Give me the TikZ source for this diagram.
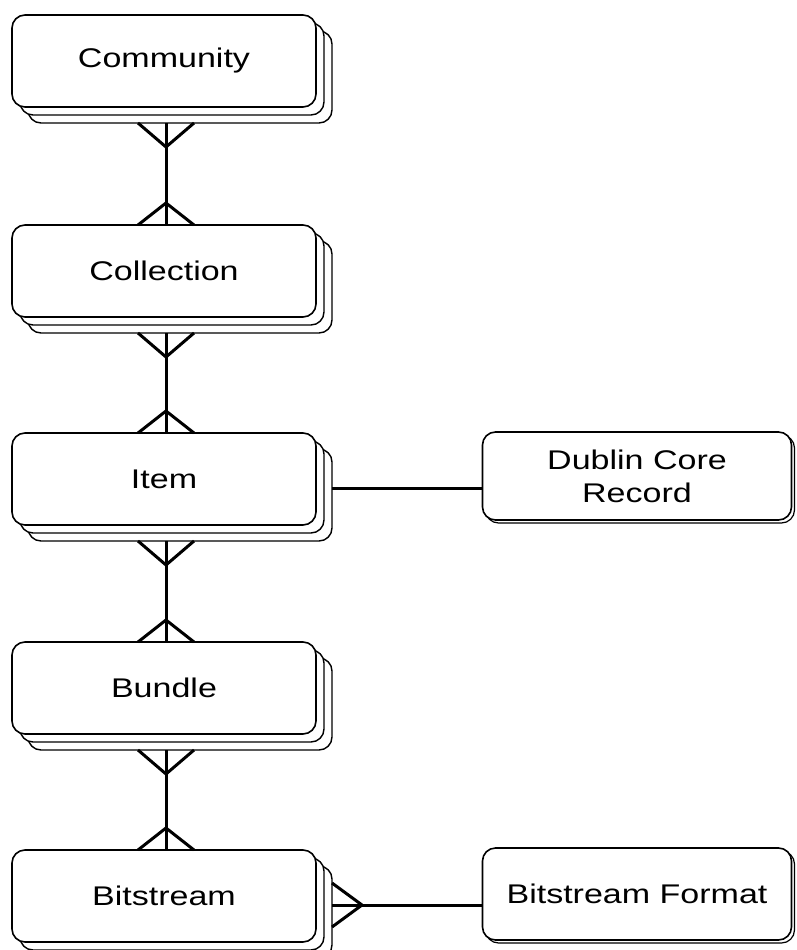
\documentclass[tikz,border=0pt]{standalone}
\usepackage{fontspec}
\setmainfont{Liberation Sans}[FakeStretch=1.26]
\usetikzlibrary{calc,shadows}
\begin{document}
\begin{tikzpicture}[x=1pt,y=-1pt,
  entity/.style={draw, line width=1.6pt, rounded corners=13pt, fill=white,
    minimum width=304pt, minimum height=92pt, inner sep=0pt, outer sep=0pt,
    font=\fontsize{27}{33}\selectfont,
    copy shadow={shadow xshift=16pt, shadow yshift=-16pt, draw, fill=white, line width=1.4pt},
    copy shadow={shadow xshift=8pt, shadow yshift=-8pt, draw, fill=white, line width=1.4pt}},
  record/.style={draw, line width=1.6pt, rounded corners=13pt, fill=white,
    minimum width=309pt, minimum height=88pt, inner sep=0pt, outer sep=0pt,
    align=center, font=\fontsize{27}{33}\selectfont,
    copy shadow={shadow xshift=3pt, shadow yshift=-3pt, draw, fill=white, line width=1.2pt}},
  link/.style={line width=3pt, line join=round}]
\fill[white] (0,0) rectangle (796,950);
\useasboundingbox (0,0) rectangle (796,950);

% entities of the containment hierarchy
\node[entity] (com)  at (164,61)  {Community};
\node[entity] (col)  at (164,271) {Collection};
\node[entity] (item) at (164,479) {Item};
\node[entity] (bun)  at (164,688) {Bundle};
\node[entity] (bit)  at (164,896) {Bitstream};
\node[record] (dc)   at (637,476) {Dublin Core\\Record};
\node[record, minimum height=92pt] (bf) at (637,894) {Bitstream Format};

% many-to-many links down the hierarchy
\foreach \a/\b in {com/col, col/item, item/bun, bun/bit}{
  \draw[link] ($(\a.south)+(2,16)$) -- ($(\b.north)+(2,0)$);
  \draw[link] ($(\a.south)+(-26,16)$) -- ($(\a.south)+(2,40)$) -- ($(\a.south)+(30,16)$);
  \draw[link] ($(\b.north)+(-26,0)$) -- ($(\b.north)+(2,-22)$) -- ($(\b.north)+(30,0)$);
}

% item to its metadata record
\coordinate (itemR) at ($(item.east)+(16,9)$);
\draw[link] (itemR) -- (itemR -| dc.west);

% bitstreams to their format
\coordinate (bitR) at ($(bit.east)+(16,9)$);
\draw[link] (bitR) -- (bitR -| bf.west);
\draw[link] ($(bitR)+(0,-22)$) -- ($(bitR)+(30,0)$) -- ($(bitR)+(0,22)$);
\end{tikzpicture}
\end{document}
